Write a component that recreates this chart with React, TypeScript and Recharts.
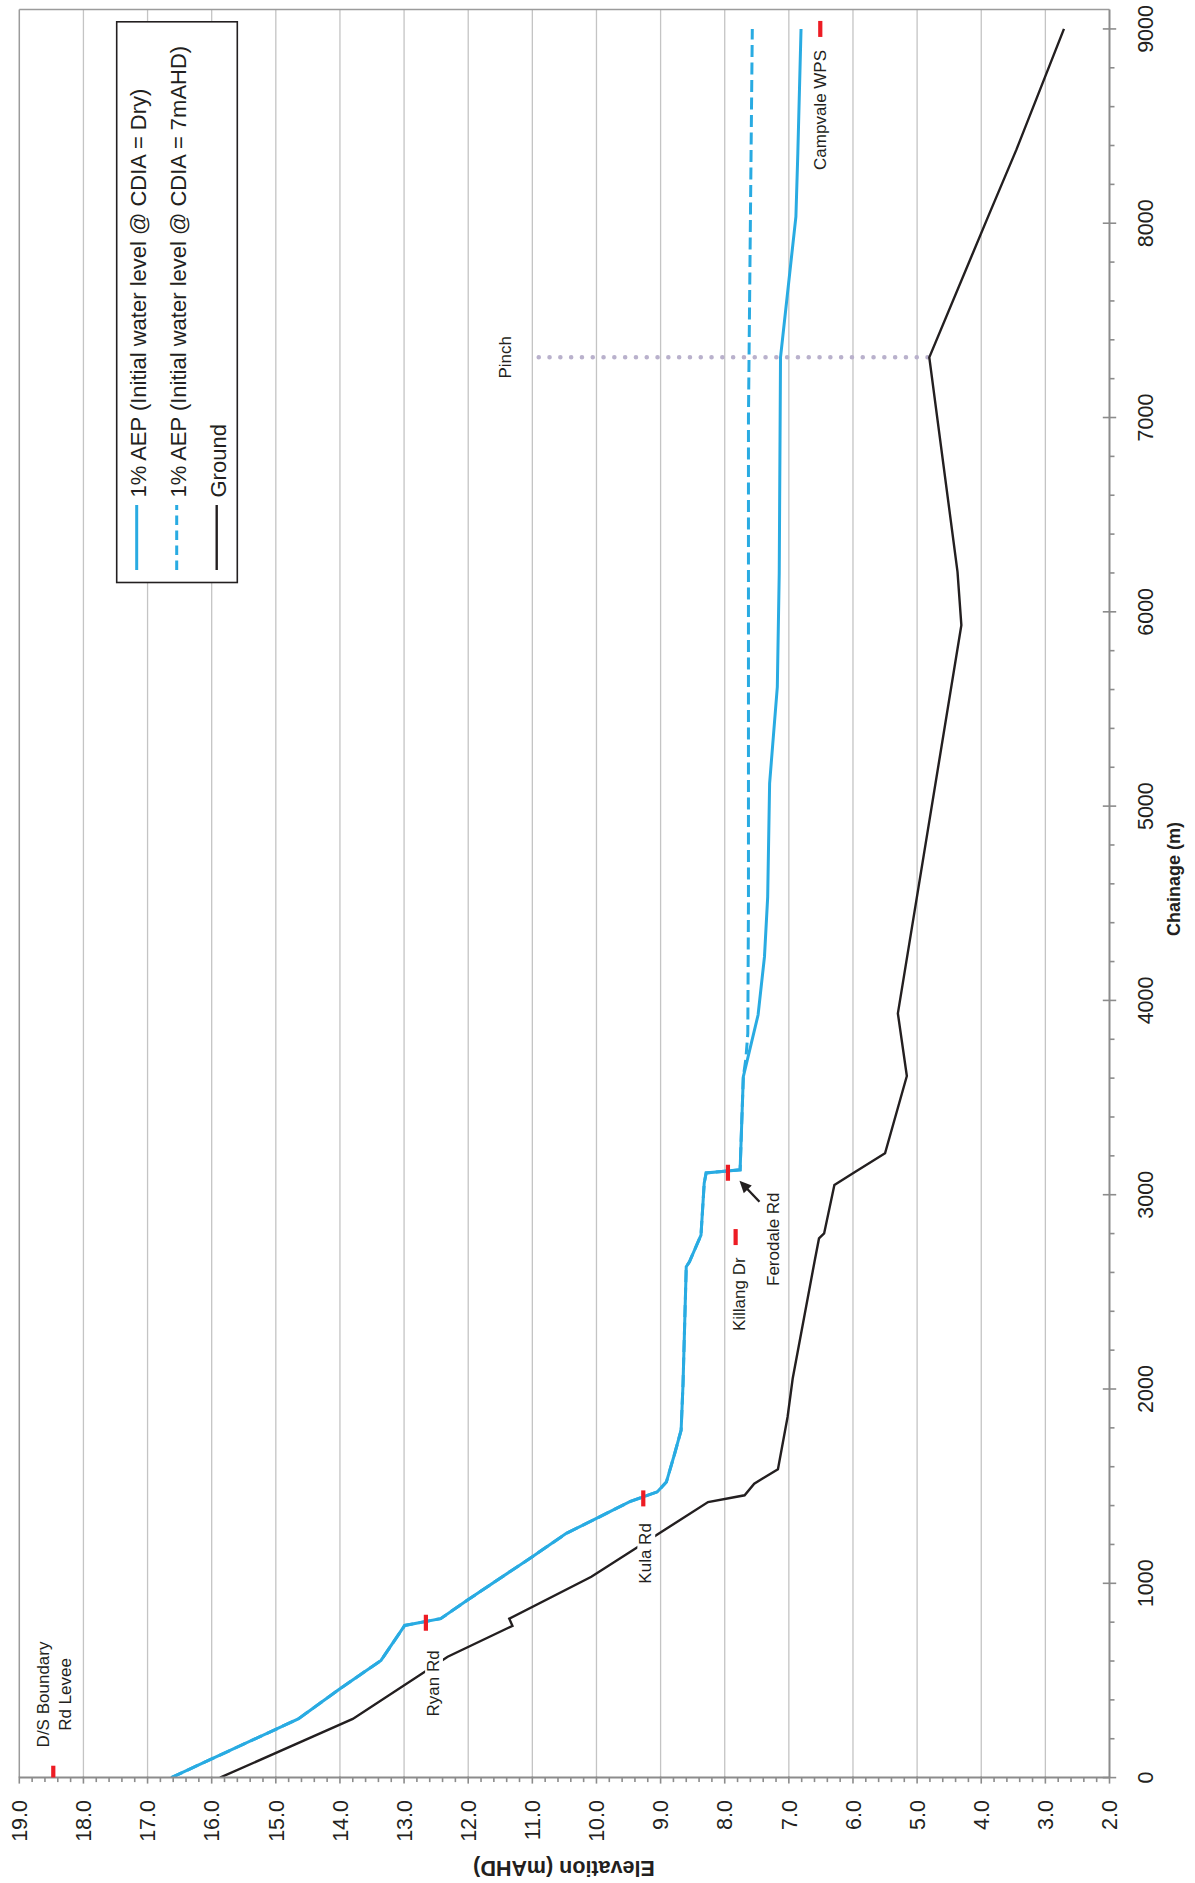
import React from "react";
import {
  CartesianGrid,
  ComposedChart,
  Line,
  ReferenceDot,
  ReferenceLine,
  Scatter,
  XAxis,
  YAxis,
} from "recharts";

// chart is drawn landscape, then turned a quarter turn for the portrait page
const W = 1883;
const H = 1195;

const FONT = "'Liberation Sans', Arial, Helvetica, sans-serif";
const INK = "#231f20";
const BLUE = "#29abe2";
const RED = "#ed1c24";
const AXIS = "#8c8c8c";
const PINCH = "#b9b1cc";

// 1% AEP, CDIA dry
const dryChainage = [0, 96, 302, 457, 603, 783, 818, 914, 1137, 1257, 1334, 1420, 1471, 1521, 1668, 1788, 2028, 2629, 2655, 2792, 3059, 3112, 3128, 3607, 3925, 4225, 4533, 5117, 5613, 6200, 7310, 8034, 8361, 9000];
const dryLevel = [16.63, 16.0, 14.65, 14.0, 13.36, 12.99, 12.43, 12.01, 11.0, 10.47, 10.0, 9.48, 9.05, 8.91, 8.78, 8.68, 8.65, 8.6, 8.55, 8.37, 8.32, 8.29, 7.76, 7.71, 7.48, 7.38, 7.33, 7.3, 7.18, 7.15, 7.13, 6.89, 6.86, 6.81];

// 1% AEP, CDIA at 7mAHD - same as the dry run up to 3607 m
const wetSplit = 3607;
const wetChainage = [3700, 3830, 4500, 7000, 9000];
const wetLevel = [7.67, 7.64, 7.63, 7.63, 7.57];

const groundChainage = [0, 302, 622, 781, 818, 1034, 1418, 1453, 1513, 1587, 1856, 2054, 2655, 2775, 2801, 3050, 3110, 3213, 3611, 3933, 5931, 6206, 7310, 8052, 8380, 9000];
const groundLevel = [15.87, 13.8, 12.32, 11.31, 11.36, 10.08, 8.26, 7.69, 7.54, 7.17, 7.02, 6.94, 6.6, 6.53, 6.45, 6.29, 6.0, 5.5, 5.16, 5.3, 4.31, 4.37, 4.81, 3.87, 3.45, 2.71];

const structureChainage = [20, 797, 1437, 2782, 3113, 9000];
const structureLevel = [18.47, 12.66, 9.27, 7.83, 7.95, 6.51];

const pinchChainage = 7310;
const pinchLevels = [10.9, 4.81];

// text notes: centre chainage, baseline elevation
const noteText = [["D/S Boundary", "Rd Levee"], ["Ryan Rd"], ["Kula Rd"], ["Killang Dr"], ["Ferodale Rd"], ["Pinch"], ["Campvale WPS"]];
const noteChainage = [428, 485, 1154, 2488, 2771, 7310, 8583];
const noteLevel = [18.54, 12.46, 9.15, 7.69, 7.15, 11.33, 6.42];

const chainageMajor = [0, 1000, 2000, 3000, 4000, 5000, 6000, 7000, 8000, 9000];
const elevationMajor = [2, 3, 4, 5, 6, 7, 8, 9, 10, 11, 12, 13, 14, 15, 16, 17, 18, 19];
const gridLevels = [3, 4, 5, 6, 7, 8, 9, 10, 11, 12, 13, 14, 15, 16, 17, 18];

const legendItems = [
  { name: "1% AEP (Initial water level @ CDIA = Dry)", color: BLUE, dash: undefined, width: 3 },
  { name: "1% AEP (Initial water level @ CDIA = 7mAHD)", color: BLUE, dash: "9.5 5.5", width: 3 },
  { name: "Ground", color: INK, dash: undefined, width: 2.4 },
];

const zip = (cs: number[], es: number[]) => cs.map((c, i) => ({ c, e: es[i] }));

const dryData = zip(dryChainage, dryLevel);
const wetData = [...dryData.filter((p) => p.c <= wetSplit), ...zip(wetChainage, wetLevel)];
const groundData = zip(groundChainage, groundLevel);
const structureData = zip(structureChainage, structureLevel);
const pinchData = pinchLevels.map((e) => ({ c: pinchChainage, e }));

// minor ticks every 200 m and every 0.2 m
const chainageTicks = chainageMajor.flatMap((v, i) =>
  i < chainageMajor.length - 1 ? [v, v + 200, v + 400, v + 600, v + 800] : [v]
);
const elevationTicks = elevationMajor.flatMap((v, i) =>
  i < elevationMajor.length - 1 ? [v, v + 0.2, v + 0.4, v + 0.6, v + 0.8].map((t) => Math.round(t * 10) / 10) : [v]
);

const ChainageTick = (props: any) => {
  const { x, y, payload } = props;
  const v = payload.value;
  const major = v % 1000 === 0;
  return (
    <g>
      <line x1={x} x2={x} y1={major ? y - 6.7 : y} y2={y + (major ? 6.7 : 5)} stroke={AXIS} strokeWidth={1.6} />
      {major && (
        <text x={x} y={y + 43.8} textAnchor="middle" fontSize={21.5} fontFamily={FONT} fill={INK}>
          {v}
        </text>
      )}
    </g>
  );
};

const ElevationTick = (props: any) => {
  const { x, y, payload } = props;
  const v = payload.value;
  const major = Math.abs(v - Math.round(v)) < 1e-6;
  return (
    <g>
      <line x1={x - (major ? 6 : 4.5)} x2={x + (major ? 1 : 0)} y1={y} y2={y} stroke={AXIS} strokeWidth={1.6} />
      {major && (
        <text x={x - 22.4} y={y} dy="0.36em" textAnchor="end" fontSize={21.5} fontFamily={FONT} fill={INK}>
          {v.toFixed(1)}
        </text>
      )}
    </g>
  );
};

const noteShape = (lines: string[]) => (p: any) => {
  const fs = 17;
  const lh = 22;
  return (
    <g>
      {lines.map((t, i) => {
        const w = t.length * fs * 0.56;
        return (
          <g key={i}>
            <rect x={p.cx - w / 2 - 3} y={p.cy + i * lh - fs * 0.8} width={w + 6} height={fs * 1.05} fill="#fff" />
            <text x={p.cx} y={p.cy + i * lh} textAnchor="middle" fontSize={fs} fontFamily={FONT} fill={INK}>
              {t}
            </text>
          </g>
        );
      })}
    </g>
  );
};

// arrow pointing at Ferodale Rd, drawn back from its tip
const arrowShape = (p: any) => {
  const { cx, cy } = p;
  return (
    <g>
      <line x1={cx - 21} y1={cy + 20} x2={cx - 8} y2={cy + 7.6} stroke={INK} strokeWidth={2.4} />
      <polygon points={`${cx},${cy} ${cx - 4.9},${cy + 12.3} ${cx - 12.5},${cy + 4.3}`} fill={INK} />
    </g>
  );
};

const dashMarker = (p: any) => <rect x={p.cx - 8} y={p.cy - 2.1} width={16} height={4.2} fill={RED} />;

export default function App() {
  return (
    <div style={{ position: "fixed", left: 0, top: 0, width: H, height: W, overflow: "hidden", background: "#fff" }}>
      <div
        style={{
          position: "absolute",
          left: 0,
          top: 0,
          width: W,
          height: H,
          transformOrigin: "0 0",
          transform: `translateY(${W}px) rotate(-90deg)`,
        }}
      >
        <ComposedChart width={W} height={H} margin={{ top: 19.3, right: 9.5, bottom: 0, left: 0 }}>
          <CartesianGrid
            vertical={false}
            stroke="#c4c4c4"
            strokeWidth={1.3}
            horizontalCoordinatesGenerator={({ yAxis, offset }: any) =>
              gridLevels.map((v) =>
                yAxis && typeof yAxis.scale === "function"
                  ? yAxis.scale(v)
                  : offset.top + ((19 - v) / 17) * offset.height
              )
            }
          />
          <ReferenceLine y={19} stroke="#9b9b9b" strokeWidth={1.5} />
          <ReferenceLine x={9100} stroke="#9b9b9b" strokeWidth={1.5} />
          <XAxis
            type="number"
            dataKey="c"
            domain={[0, 9100]}
            ticks={chainageTicks}
            interval={0}
            allowDataOverflow
            height={85.5}
            tickSize={0}
            tickMargin={0}
            tickLine={false}
            axisLine={{ stroke: AXIS, strokeWidth: 2 }}
            tick={<ChainageTick />}
          />
          <YAxis
            type="number"
            domain={[2, 19]}
            ticks={elevationTicks}
            interval={0}
            allowDataOverflow
            width={105.4}
            tickSize={0}
            tickMargin={0}
            tickLine={false}
            axisLine={{ stroke: AXIS, strokeWidth: 2 }}
            tick={<ElevationTick />}
          />
          <Line
            data={pinchData}
            dataKey="e"
            stroke={PINCH}
            strokeWidth={4.6}
            strokeDasharray="0 10.8"
            strokeLinecap="round"
            dot={false}
            isAnimationActive={false}
          />
          <Line data={groundData} dataKey="e" stroke={INK} strokeWidth={2.4} dot={false} isAnimationActive={false} />
          <Line
            data={wetData}
            dataKey="e"
            stroke={BLUE}
            strokeWidth={3}
            strokeDasharray="12 5.5"
            dot={false}
            isAnimationActive={false}
          />
          <Line data={dryData} dataKey="e" stroke={BLUE} strokeWidth={3} dot={false} isAnimationActive={false} />
          {noteText.map((lines, i) => (
            <ReferenceDot key={i} x={noteChainage[i]} y={noteLevel[i]} r={0} shape={noteShape(lines)} />
          ))}
          <ReferenceDot x={3072} y={7.77} r={0} shape={arrowShape} />
          <Scatter data={structureData} dataKey="e" shape={dashMarker} isAnimationActive={false} />
        </ComposedChart>

        <svg width={W} height={H} style={{ position: "absolute", left: 0, top: 0, pointerEvents: "none" }}>
          <text
            transform="translate(21.7,564) rotate(-90)"
            textAnchor="middle"
            fontSize={21.5}
            fontWeight="bold"
            fontFamily={FONT}
            fill={INK}
          >
            Elevation (mAHD)
          </text>
          <text x={1004} y={1179.6} textAnchor="middle" fontSize={18} fontWeight="bold" fontFamily={FONT} fill={INK}>
            Chainage (m)
          </text>

          <rect x={1300.5} y={116.7} width={560.7} height={120.6} fill="#fff" stroke={INK} strokeWidth={1.6} />
          {legendItems.map((item, i) => {
            const cy = 136.7 + i * 40;
            return (
              <g key={item.name}>
                <line
                  x1={1313}
                  x2={1378}
                  y1={cy}
                  y2={cy}
                  stroke={item.color}
                  strokeWidth={item.width}
                  strokeDasharray={item.dash}
                />
                <text x={1385.5} y={cy + 9.5} fontSize={22} fontFamily={FONT} fill={INK}>
                  {item.name}
                </text>
              </g>
            );
          })}
        </svg>
      </div>
    </div>
  );
}
